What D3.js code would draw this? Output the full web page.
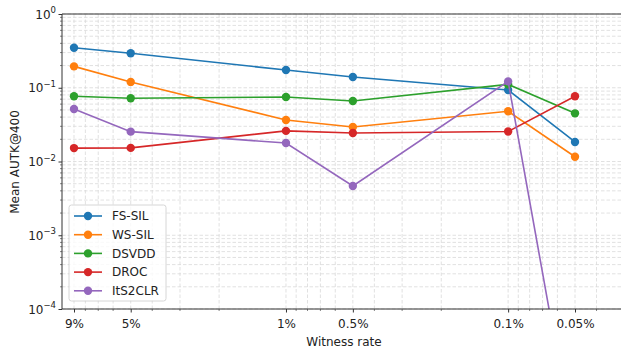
<!DOCTYPE html>
<html>
<head>
<meta charset="utf-8">
<script src="https://cdn.jsdelivr.net/npm/d3@7"></script>
<style>
  body { margin: 0; background: #fff; }
  text { font-family: "DejaVu Sans", sans-serif; fill: #222; }
</style>
</head>
<body>
<svg id="chart" width="621" height="350"></svg>
<script>
  // witness rates (x) and their labels
  var rates = [0.09, 0.05, 0.01, 0.005, 0.001, 0.0005]
  var rateLabels = ['9%', '5%', '1%', '0.5%', '0.1%', '0.05%']

  // methods and their mean AUTK@400 per witness rate
  var methods = ['FS-SIL', 'WS-SIL', 'DSVDD', 'DROC', 'ItS2CLR']
  var colors = ['#1f77b4', '#ff7f0e', '#2ca02c', '#d62728', '#9467bd']
  var fsSil   = [0.349, 0.293, 0.174, 0.140, 0.093, 0.0184]
  var wsSil   = [0.195, 0.120, 0.0365, 0.0294, 0.048, 0.0116]
  var dsvdd   = [0.0766, 0.072, 0.075, 0.066, 0.111, 0.045]
  var droc    = [0.0152, 0.0153, 0.026, 0.0243, 0.0255, 0.0766]
  var its2clr = [0.0515, 0.0254, 0.0178, 0.00465, 0.122, 0.0000011]
  var series = [fsSil, wsSil, dsvdd, droc, its2clr]

  var yTicks = [1e-4, 1e-3, 1e-2, 1e-1, 1];

(function() {
  var pLeft = 62, pRight = 625, pTop = 14, pBottom = 309
  var fs = 12

  var svg = d3.select('#chart')

  var x = d3.scaleLog().domain([0.09, 0.0005]).range([74, 575])
  var y = d3.scaleLog().domain([1e-4, 1]).range([pBottom, pTop])

  // minor tick values (2..9 x 10^k)
  var xMinor = [], yMinor = []
  for (var k = -5; k <= 0; k++) {
    for (var m = 2; m <= 9; m++) {
      var v = m * Math.pow(10, k)
      var px = x(v)
      var isMajor = rates.some(function(r) { return Math.abs(r - v) / r < 1e-6 })
      if (px > pLeft && px < pRight && !isMajor) xMinor.push(v)
      if (v > 1e-4 && v < 1) yMinor.push(v)
    }
  }

  // grid
  var grid = svg.append('g')
  function vline(v) {
    grid.append('line').attr('x1', x(v)).attr('x2', x(v)).attr('y1', pTop).attr('y2', pBottom)
      .attr('stroke', '#d9d9d9').attr('stroke-width', 0.8).attr('stroke-dasharray', '3.5,2')
  }
  function hline(v) {
    grid.append('line').attr('x1', pLeft).attr('x2', pRight).attr('y1', y(v)).attr('y2', y(v))
      .attr('stroke', '#d9d9d9').attr('stroke-width', 0.8).attr('stroke-dasharray', '3.5,2')
  }
  xMinor.forEach(vline)
  rates.forEach(vline)
  yMinor.forEach(hline)
  yTicks.forEach(hline)

  // clip
  svg.append('clipPath').attr('id', 'clip').append('rect')
    .attr('x', pLeft).attr('y', pTop).attr('width', pRight - pLeft).attr('height', pBottom - pTop)

  var plot = svg.append('g').attr('clip-path', 'url(#clip)')
  var line = d3.line().x(function(d, i) { return x(rates[i]) }).y(function(d) { return y(d) })

  series.forEach(function(vals, s) {
    var g = plot.append('g')
    g.append('path').datum(vals).attr('d', line)
      .attr('fill', 'none').attr('stroke', colors[s]).attr('stroke-width', 1.6)
    g.selectAll('circle').data(vals).enter().append('circle')
      .attr('cx', function(d, i) { return x(rates[i]) })
      .attr('cy', function(d) { return y(d) })
      .attr('r', 4.2).attr('fill', colors[s])
  })

  // axes
  var xAxis = svg.append('g').attr('transform', 'translate(0,' + pBottom + ')')
    .call(d3.axisBottom(x).tickValues(rates).tickFormat(function(d, i) { return rateLabels[i] })
      .tickSize(3.5).tickPadding(7))
  xAxis.select('.domain').remove()
  xAxis.selectAll('text').attr('font-size', fs).attr('fill', '#222')
  xAxis.selectAll('.tick line').attr('stroke', '#333')
  xAxis.selectAll('.minor').data(xMinor).enter().append('line')
    .attr('x1', function(d) { return x(d) }).attr('x2', function(d) { return x(d) })
    .attr('y1', 0).attr('y2', 2).attr('stroke', '#333').attr('stroke-width', 0.6)

  var yAxis = svg.append('g').attr('transform', 'translate(' + pLeft + ',0)')
    .call(d3.axisLeft(y).tickValues(yTicks).tickFormat('').tickSize(3.5))
  yAxis.select('.domain').remove()
  yAxis.selectAll('.tick line').attr('stroke', '#333')
  yAxis.selectAll('.minor').data(yMinor).enter().append('line')
    .attr('y1', function(d) { return y(d) }).attr('y2', function(d) { return y(d) })
    .attr('x1', 0).attr('x2', -2).attr('stroke', '#333').attr('stroke-width', 0.6)

  yTicks.forEach(function(t) {
    var e = Math.round(Math.log10(t))
    var label = svg.append('text').attr('x', 56).attr('y', y(t) + 4.7)
      .attr('text-anchor', 'end').attr('font-size', fs)
    label.append('tspan').text('10')
    label.append('tspan').attr('dy', -5.5).attr('font-size', 8.5)
      .text(e < 0 ? '\u2212' + (-e) : String(e))
  })

  // spines
  svg.append('line').attr('x1', pLeft).attr('x2', pLeft).attr('y1', pTop).attr('y2', pBottom)
    .attr('stroke', '#333').attr('stroke-width', 1)
  svg.append('line').attr('x1', pLeft).attr('x2', pRight).attr('y1', pTop).attr('y2', pTop)
    .attr('stroke', '#333').attr('stroke-width', 1)
  svg.append('line').attr('x1', pLeft).attr('x2', pRight).attr('y1', pBottom).attr('y2', pBottom)
    .attr('stroke', '#333').attr('stroke-width', 1)

  // axis titles
  svg.append('text').attr('x', 344).attr('y', 346).attr('text-anchor', 'middle')
    .attr('font-size', fs).text('Witness rate')
  svg.append('text').attr('transform', 'translate(19,162) rotate(-90)')
    .attr('text-anchor', 'middle').attr('font-size', fs).text('Mean AUTK@400')

  // legend
  var legend = svg.append('g').attr('transform', 'translate(69,205)')
  legend.append('rect').attr('width', 97).attr('height', 96).attr('rx', 2.5)
    .attr('fill', 'rgba(255,255,255,0.8)').attr('stroke', '#ccc').attr('stroke-width', 0.8)
  methods.forEach(function(name, i) {
    var ly = 11 + i * 18.7
    legend.append('line').attr('x1', 5).attr('x2', 33).attr('y1', ly).attr('y2', ly)
      .attr('stroke', colors[i]).attr('stroke-width', 1.6)
    legend.append('circle').attr('cx', 19).attr('cy', ly).attr('r', 4.2).attr('fill', colors[i])
    legend.append('text').attr('x', 43).attr('y', ly + 4.3).attr('font-size', fs).text(name)
  })
})();
</script>
</body>
</html>
